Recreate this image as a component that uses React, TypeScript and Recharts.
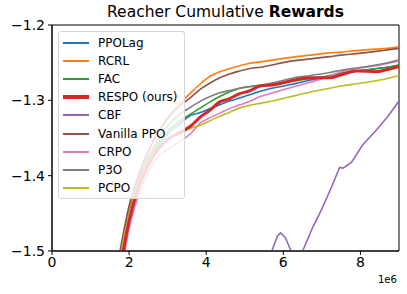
import {
  LineChart,
  Line,
  Area,
  XAxis,
  YAxis,
  ReferenceArea,
} from 'recharts';

const steps = [1.6, 1.8, 2.0, 2.25, 2.5, 2.75, 3.0, 3.3, 3.6, 3.85, 4.1, 4.35, 4.6, 4.87, 5.1, 5.4, 5.8, 6.2, 6.7, 7.2, 7.5, 7.9, 8.4, 8.7, 9.0];

const ppoLag = [-1.58, -1.51, -1.458, -1.412, -1.383, -1.361, -1.345, -1.332, -1.32, -1.316, -1.311, -1.306, -1.301, -1.297, -1.293, -1.288, -1.283, -1.279, -1.273, -1.268, -1.264, -1.261, -1.258, -1.256, -1.253];
const rcrl = [-1.56, -1.495, -1.445, -1.4, -1.368, -1.343, -1.323, -1.305, -1.29, -1.278, -1.268, -1.262, -1.258, -1.254, -1.251, -1.249, -1.246, -1.243, -1.24, -1.237, -1.236, -1.234, -1.232, -1.231, -1.229];
const fac = [-1.58, -1.505, -1.455, -1.41, -1.38, -1.357, -1.341, -1.328, -1.318, -1.31, -1.302, -1.295, -1.289, -1.284, -1.282, -1.28, -1.278, -1.275, -1.271, -1.267, -1.264, -1.261, -1.258, -1.256, -1.253];
const respo = [-1.59, -1.515, -1.46, -1.415, -1.386, -1.365, -1.352, -1.343, -1.334, -1.322, -1.313, -1.302, -1.298, -1.291, -1.288, -1.281, -1.279, -1.274, -1.27, -1.27, -1.266, -1.261, -1.262, -1.259, -1.255];
const vanillaPpo = [-1.55, -1.49, -1.44, -1.398, -1.367, -1.343, -1.324, -1.308, -1.296, -1.285, -1.277, -1.27, -1.265, -1.261, -1.258, -1.256, -1.252, -1.248, -1.245, -1.242, -1.24, -1.238, -1.235, -1.233, -1.231];
const crpo = [-1.6, -1.53, -1.47, -1.425, -1.395, -1.375, -1.365, -1.355, -1.344, -1.33, -1.323, -1.317, -1.311, -1.306, -1.302, -1.295, -1.289, -1.283, -1.276, -1.268, -1.262, -1.258, -1.254, -1.251, -1.248];
const p3o = [-1.57, -1.5, -1.45, -1.405, -1.375, -1.352, -1.334, -1.319, -1.309, -1.301, -1.295, -1.29, -1.287, -1.284, -1.282, -1.28, -1.276, -1.271, -1.267, -1.263, -1.26, -1.257, -1.253, -1.25, -1.246];
const pcpo = [-1.57, -1.5, -1.452, -1.41, -1.382, -1.363, -1.352, -1.345, -1.337, -1.333, -1.327, -1.321, -1.316, -1.31, -1.307, -1.304, -1.3, -1.295, -1.289, -1.284, -1.281, -1.278, -1.274, -1.271, -1.267];

// faint spread around the main group of runs
const bandHigh = [-1.55, -1.485, -1.435, -1.39, -1.358, -1.333, -1.313, -1.295, -1.281, -1.269, -1.26, -1.254, -1.25, -1.246, -1.243, -1.241, -1.238, -1.235, -1.232, -1.229, -1.228, -1.226, -1.224, -1.223, -1.221];
const bandLow = [-1.62, -1.55, -1.49, -1.44, -1.41, -1.39, -1.38, -1.37, -1.355, -1.345, -1.337, -1.33, -1.324, -1.318, -1.315, -1.312, -1.308, -1.303, -1.297, -1.292, -1.289, -1.286, -1.282, -1.279, -1.275];

const cbfSteps = [5.5, 5.7, 5.85, 5.93, 6.05, 6.2, 6.35, 6.5, 6.75, 7.0, 7.25, 7.46, 7.55, 7.77, 8.06, 8.42, 8.7, 9.0];
const cbf = [-1.54, -1.5, -1.48, -1.476, -1.482, -1.5, -1.52, -1.5, -1.47, -1.444, -1.415, -1.389, -1.39, -1.382, -1.359, -1.339, -1.322, -1.301];
const cbfHigh = [-1.47, -1.43, -1.41, -1.4, -1.41, -1.42, -1.435, -1.43, -1.4, -1.38, -1.36, -1.345, -1.343, -1.335, -1.318, -1.305, -1.295, -1.285];
const cbfLow = [-1.6, -1.58, -1.56, -1.55, -1.56, -1.58, -1.6, -1.57, -1.53, -1.51, -1.48, -1.45, -1.44, -1.43, -1.4, -1.37, -1.35, -1.32];

const xTicks = [0, 2, 4, 6, 8];
const yTicks = [-1.5, -1.4, -1.3, -1.2];

const series = [
  { name: 'PPOLag', values: ppoLag, color: '#1f77b4', width: 1.6 },
  { name: 'RCRL', values: rcrl, color: '#ff7f0e', width: 1.6 },
  { name: 'FAC', values: fac, color: '#2ca02c', width: 1.6 },
  { name: 'RESPO (ours)', values: respo, color: '#d62728', width: 3 },
  { name: 'CBF', values: cbf, color: '#9467bd', width: 1.6 },
  { name: 'Vanilla PPO', values: vanillaPpo, color: '#8c564b', width: 1.6 },
  { name: 'CRPO', values: crpo, color: '#e377c2', width: 1.6 },
  { name: 'P3O', values: p3o, color: '#7f7f7f', width: 1.6 },
  { name: 'PCPO', values: pcpo, color: '#bcbd22', width: 1.6 },
];

const FONT = '"DejaVu Sans", sans-serif';

const toPoints = (xs: number[], ys: number[]) => xs.map((x, i) => ({ x, y: ys[i] }));
const toBand = (xs: number[], lo: number[], hi: number[]) =>
  xs.map((x, i) => ({ x, range: [lo[i], hi[i]] }));

const LegendBox = () => (
  <div
    style={{
      position: 'absolute',
      left: 58,
      top: 31,
      width: 127,
      height: 168,
      boxSizing: 'border-box',
      background: 'rgba(255,255,255,0.82)',
      border: '1px solid #d6d6d6',
      borderRadius: 3,
      padding: '2px 0 0 4px',
      fontFamily: FONT,
      fontSize: 12,
      color: '#000',
    }}
  >
    {series.map((s) => (
      <div key={s.name} style={{ display: 'flex', alignItems: 'center', height: 18.1 }}>
        <div
          style={{
            width: 26,
            height: s.width > 2 ? 4 : 2,
            background: s.color,
            marginRight: 9,
          }}
        />
        <span style={{ whiteSpace: 'nowrap' }}>{s.name}</span>
      </div>
    ))}
  </div>
);

export default function App() {
  const drawOrder = series.filter((s) => s.name !== 'RESPO (ours)' && s.name !== 'CBF');
  const red = series[3];
  return (
    <div style={{ position: 'absolute', left: 0, top: 0, width: 407, height: 294, background: '#fff' }}>
      <div
        style={{
          position: 'absolute',
          left: 52,
          width: 347,
          top: 3,
          textAlign: 'center',
          fontFamily: FONT,
          fontSize: 15.5,
          color: '#000',
          whiteSpace: 'nowrap',
        }}
      >
        Reacher Cumulative <b>Rewards</b>
      </div>
      <LineChart width={407} height={294} margin={{ top: 25, right: 8, bottom: 0, left: 0 }}>
        <XAxis
          type="number"
          dataKey="x"
          domain={[0, 9]}
          allowDataOverflow
          ticks={xTicks}
          tickFormatter={(v: number) => String(v)}
          height={43}
          tickSize={4}
          tickMargin={2}
          stroke="#000"
          tick={{ fill: '#000', fontSize: 14, fontFamily: FONT }}
        />
        <YAxis
          type="number"
          domain={[-1.5, -1.2]}
          allowDataOverflow
          ticks={yTicks}
          tickFormatter={(v: number) => v.toFixed(1).replace('-', '\u2212')}
          width={52}
          tickSize={4}
          tickMargin={3}
          stroke="#000"
          tick={{ fill: '#000', fontSize: 14, fontFamily: FONT }}
        />
        <Area
          data={toBand(steps, bandLow, bandHigh)}
          dataKey="range"
          type="monotone"
          stroke="none"
          fill="#c8c4bd"
          fillOpacity={0.18}
          legendType="none"
          isAnimationActive={false}
        />
        <Area
          data={toBand(cbfSteps, cbfLow, cbfHigh)}
          dataKey="range"
          type="monotone"
          stroke="none"
          fill="#9467bd"
          fillOpacity={0.07}
          legendType="none"
          isAnimationActive={false}
        />
        {drawOrder.map((s) => (
          <Line
            key={s.name}
            data={toPoints(steps, s.values)}
            dataKey="y"
            type="monotone"
            stroke={s.color}
            strokeWidth={s.width}
            dot={false}
            isAnimationActive={false}
          />
        ))}
        <Line
          data={toPoints(cbfSteps, cbf)}
          dataKey="y"
          type="linear"
          stroke="#9467bd"
          strokeWidth={1.6}
          dot={false}
          isAnimationActive={false}
        />
        <Line
          data={toPoints(steps, red.values)}
          dataKey="y"
          type="monotone"
          stroke={red.color}
          strokeWidth={red.width}
          dot={false}
          isAnimationActive={false}
        />
        <ReferenceArea x1={0} x2={9} y1={-1.5} y2={-1.2} fill="none" stroke="#000" strokeWidth={1} />
      </LineChart>
      <LegendBox />
      <div
        style={{
          position: 'absolute',
          left: 378,
          top: 274,
          fontFamily: FONT,
          fontSize: 10,
          color: '#000',
        }}
      >
        1e6
      </div>
    </div>
  );
}
